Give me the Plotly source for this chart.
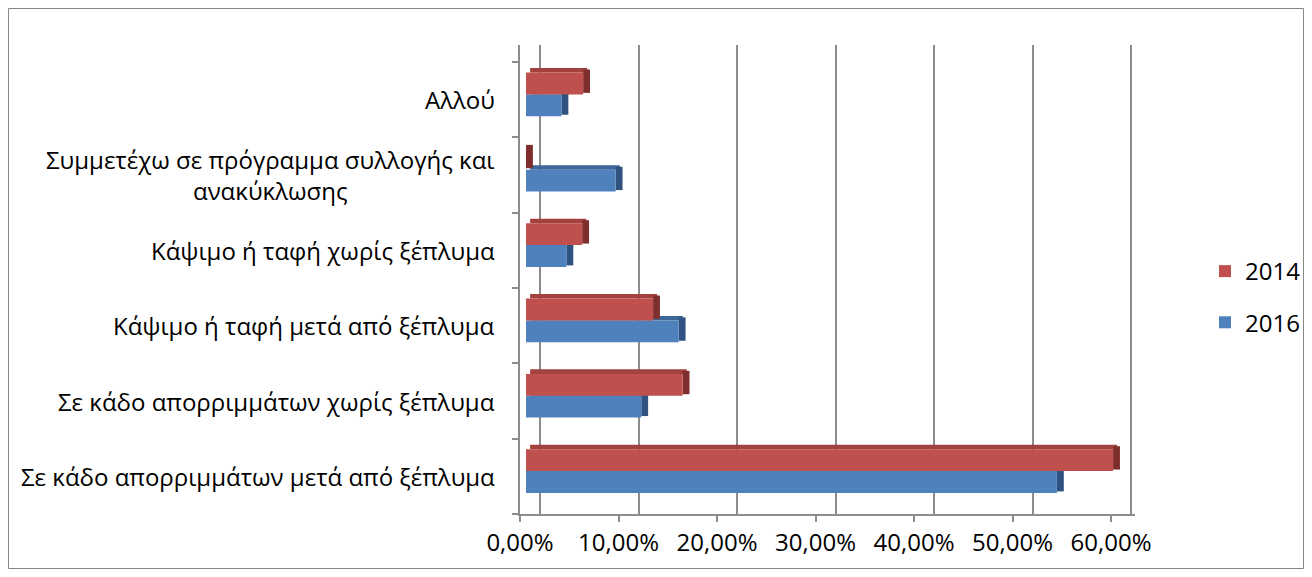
import plotly.graph_objects as go

categories = [
    "Σε κάδο απορριμμάτων μετά από ξέπλυμα",
    "Σε κάδο απορριμμάτων χωρίς ξέπλυμα",
    "Κάψιμο ή ταφή μετά από ξέπλυμα",
    "Κάψιμο ή ταφή χωρίς ξέπλυμα",
    "Συμμετέχω σε πρόγραμμα συλλογής και<br>ανακύκλωσης",
    "Αλλού",
]
values_2016 = [0.539, 0.117, 0.155, 0.041, 0.091, 0.036]
values_2014 = [0.596, 0.159, 0.129, 0.057, 0.0, 0.058]
tick_vals = [0, 0.1, 0.2, 0.3, 0.4, 0.5, 0.6]
tick_text = ["0,00%", "10,00%", "20,00%", "30,00%", "40,00%", "50,00%", "60,00%"]

ypos = list(range(len(categories)))

BLUE, BLUE_TOP, BLUE_SIDE = "#4f81bd", "#3d6799", "#2f5280"
RED, RED_TOP, RED_SIDE = "#c0504d", "#a3413f", "#7e2f2d"
GRID = "#8c8c8c"
FONT = "Open Sans"
FS = 24

DEPTH = 0.007

fig = go.Figure()

def add_series(vals, name, rank, main, top, side, off, w):
    fig.add_trace(go.Bar(y=ypos, x=vals, base=[DEPTH * 0.6] * len(vals), orientation="h",
                         offset=off + w, width=0.06, marker=dict(color=top, line=dict(width=0)),
                         showlegend=False, hoverinfo="skip"))
    fig.add_trace(go.Bar(y=ypos, x=[DEPTH] * len(vals), base=vals, orientation="h",
                         offset=off + 0.02, width=w + 0.02, marker=dict(color=side, line=dict(width=0)),
                         showlegend=False, hoverinfo="skip"))
    fig.add_trace(go.Bar(y=ypos, x=vals, orientation="h", name=name, legendgroup=name,
                         legendrank=rank, offset=off, width=w,
                         marker=dict(color=main, line=dict(width=0))))

add_series(values_2016, "2016", 2, BLUE, BLUE_TOP, BLUE_SIDE, -0.22, 0.29)
add_series(values_2014, "2014", 1, RED, RED_TOP, RED_SIDE, 0.07, 0.29)

fig.add_trace(go.Scatter(x=[None], y=[None], xaxis="x2", showlegend=False, hoverinfo="skip"))
fig.add_trace(go.Scatter(x=[None], y=[None], xaxis="x3", showlegend=False, hoverinfo="skip"))

FW, FH = 1312, 577
L, R, T, B = 520, 1135, 45, 514
W = R - L
H = B - T
ppu = 985.0

for i, c in enumerate(categories):
    fig.add_annotation(x=(497 - L) / W, xref="paper", y=ypos[i], yref="y", text=c,
                       xanchor="right", yanchor="middle", align="center", showarrow=False,
                       font=dict(family=FONT, size=FS, color="#000000"))

fig.add_shape(type="rect", xref="paper", yref="paper",
              x0=(8.5 - L) / W, x1=(1303.5 - L) / W, y0=(B - 568.5) / H, y1=(B - 8.5) / H,
              line=dict(color="#868686", width=1), fillcolor="rgba(0,0,0,0)", layer="below")

fig.update_layout(
    template="none",
    width=FW, height=FH,
    margin=dict(l=L, r=FW - R, t=T, b=FH - B, pad=0, autoexpand=False),
    paper_bgcolor="white", plot_bgcolor="white",
    barmode="overlay",
    showlegend=True,
    legend=dict(x=(1205 - L) / W, y=(B - 249) / H, xanchor="left", yanchor="top",
                traceorder="grouped", tracegroupgap=17,
                font=dict(family=FONT, size=FS, color="#000000"),
                bgcolor="rgba(0,0,0,0)", borderwidth=0, itemwidth=30),
    xaxis=dict(range=[-6 / ppu, -6 / ppu + W / ppu], showgrid=False, zeroline=False,
               showticklabels=False, showline=False, ticks="", fixedrange=True, automargin=False),
    xaxis2=dict(overlaying="x", anchor="y", range=[-20 / ppu, -20 / ppu + W / ppu],
                tickvals=tick_vals, showgrid=True, gridcolor=GRID, gridwidth=2,
                zeroline=False, showticklabels=False, showline=False, ticks="", automargin=False),
    xaxis3=dict(overlaying="x", anchor="y", side="bottom", range=[0, W / ppu],
                tickvals=tick_vals, ticktext=tick_text, showgrid=False, zeroline=False,
                showline=True, linecolor=GRID, linewidth=2, ticks="outside", ticklen=6,
                tickcolor=GRID, tickwidth=2, automargin=False,
                tickfont=dict(family=FONT, size=FS, color="#000000")),
    yaxis=dict(range=[-0.5, 5.5 + 17 / 75.3], tickvals=[-0.5, 0.5, 1.5, 2.5, 3.5, 4.5, 5.5],
               showticklabels=False, ticks="outside", ticklen=6, tickcolor=GRID, tickwidth=2,
               showline=True, linecolor=GRID, linewidth=2, showgrid=False, zeroline=False,
               fixedrange=True, automargin=False),
)

fig.write_html("out.html", config={"displayModeBar": False},
               post_script="document.body.style.margin='0';document.body.style.overflow='hidden';")
